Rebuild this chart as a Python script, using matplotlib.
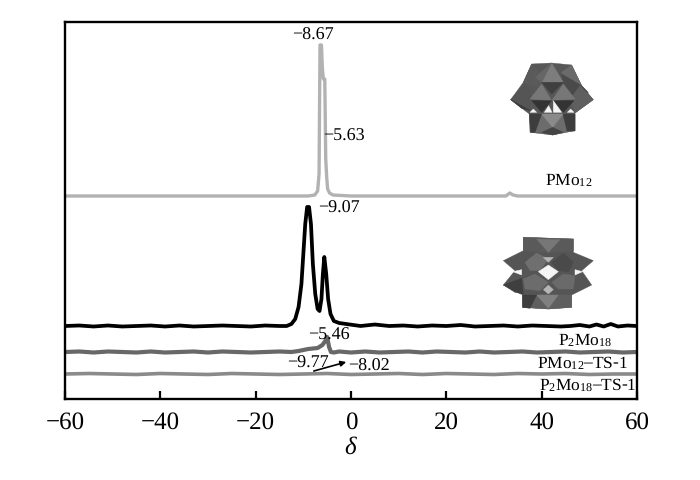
import matplotlib
matplotlib.use('Agg')
import matplotlib.pyplot as plt
from matplotlib.patches import Polygon

plt.rcParams['font.family'] = ['Liberation Serif', 'DejaVu Serif']
plt.rcParams['mathtext.fontset'] = 'custom'
plt.rcParams['mathtext.rm'] = 'Liberation Serif'
plt.rcParams['mathtext.it'] = 'Liberation Serif:italic'
plt.rcParams['text.hinting'] = 'none'

pmo12_x = [-60, -30, -15, -9, -7.6, -7.0, -6.7, -6.5, -6.2, -6.0, -5.8, -5.5, -5.3, -5.1, -4.9, -4.5, -3.8, 0, 20, 32.5, 33.3, 34, 35, 45, 60]
pmo12_y = [203, 203, 203, 203, 204, 208, 225, 354, 354, 330, 320, 320, 240, 222, 210, 206, 204, 203, 203, 203, 206, 204, 203, 203, 203]

p2mo18_x = [-60, -57, -54, -51, -48, -45, -42, -39, -36, -33, -30, -27, -24, -21, -18, -15, -13.5, -12.5, -11.7, -11, -10.4, -10, -9.6, -9.2, -8.8, -8.4, -8, -7.5, -7, -6.6, -6.2, -5.9, -5.6, -5.2, -4.8, -4.3, -3.6, -2.5, -1, 2, 5, 8, 11, 14, 17, 20, 23, 26, 29, 32, 35, 38, 41, 44, 46, 48, 50, 51.5, 53, 54.5, 56, 58, 60]
p2mo18_y = [73, 73.5, 72.5, 73.5, 72.5, 73, 73.5, 72.5, 73.5, 72.5, 73, 73.5, 73, 72.5, 73.5, 73, 73, 75, 80, 92, 115, 145, 175, 192, 192, 175, 135, 105, 90, 88, 100, 125, 142, 125, 100, 85, 78, 76, 75, 73, 74.5, 73, 73.5, 72.5, 73.5, 73, 74, 72.5, 73, 73.5, 72.5, 73.5, 73, 72.5, 73, 74, 72.5, 74.5, 72.5, 75, 72.5, 73.5, 73]

ts1_x = [-60, -57, -54, -51, -48, -45, -42, -39, -36, -33, -30, -27, -24, -21, -18, -15, -12.5, -11, -9, -7, -6, -5.4, -5.0, -4.6, -4.2, -3.6, -2.5, 0, 3, 6, 9, 12, 15, 18, 21, 24, 27, 30, 33, 36, 39, 42, 45, 48, 51, 54, 57, 60]
ts1_y = [47, 47.5, 46.5, 47.5, 47, 46.5, 47.5, 46.5, 47, 47.5, 46.5, 47.5, 47, 46.5, 47, 47.5, 47, 48, 50, 51, 54, 58, 62, 52, 47, 46.5, 47.5, 46.5, 47.5, 46.5, 47, 47.5, 46.5, 47.5, 47, 46.5, 47.5, 46.5, 47, 47.5, 46.5, 47, 47.5, 46.5, 47, 47.5, 46.5, 47]

ts2_x = [-60, -55, -50, -45, -40, -35, -30, -25, -20, -15, -10, -5, 0, 5, 10, 15, 20, 25, 30, 35, 40, 45, 50, 55, 60]
ts2_y = [25, 25.5, 25, 24.5, 25.5, 25, 24.5, 25.5, 25, 24.5, 25, 25.5, 24.5, 25, 25.5, 24.5, 25.5, 25, 24.5, 25.5, 25, 25.5, 24.5, 25, 25]

x_ticks = [-60, -40, -20, 0, 20, 40, 60]

# polyhedra, (grey, outline in pixels of the figure)
icon_pmo12 = [
    ('#575757', [(155, 45), (215, 42), (275, 48), (305, 110), (340, 152), (285, 192), (285, 245), (218, 258), (150, 250), (148, 195), (92, 152), (130, 100)]),
    ('#5a5a5a', [(155, 45), (195, 85), (170, 115), (130, 100)]),
    ('#6a6a6a', [(275, 48), (305, 110), (262, 105), (245, 70)]),
    ('#4a4a4a', [(245, 75), (305, 110), (325, 130), (285, 150), (250, 105)]),
    ('#7d7d7d', [(215, 42), (250, 100), (185, 100)]),
    ('#666666', [(215, 42), (185, 100), (165, 85)]),
    ('#3f3f3f', [(185, 100), (250, 100), (215, 135)]),
    ('#555555', [(92, 152), (135, 108), (150, 125), (152, 185)]),
    ('#3c3c3c', [(92, 152), (152, 185), (125, 178)]),
    ('#5f5f5f', [(340, 152), (300, 110), (270, 150), (285, 192)]),
    ('#777777', [(185, 105), (150, 150), (215, 155)]),
    ('#777777', [(250, 105), (215, 155), (285, 150)]),
    ('#333333', [(155, 155), (215, 155), (185, 190)]),
    ('#333333', [(220, 155), (282, 155), (250, 190)]),
    ('#f5f5f5', [(150, 190), (170, 190), (160, 180)]),
    ('#f5f5f5', [(193, 190), (216, 190), (206, 170)]),
    ('#f5f5f5', [(220, 155), (245, 190), (220, 190)]),
    ('#f5f5f5', [(262, 190), (282, 190), (272, 180)]),
    ('#6c6c6c', [(148, 195), (285, 195), (285, 245), (250, 250), (218, 258), (185, 250), (152, 250)]),
    ('#8a8a8a', [(185, 195), (250, 195), (218, 235)]),
    ('#3d3d3d', [(148, 195), (185, 195), (165, 250), (152, 250)]),
    ('#3d3d3d', [(250, 195), (285, 195), (285, 245), (262, 245)]),
    ('#444444', [(185, 250), (218, 235), (250, 250), (218, 258)]),
]
icon_p2mo18 = [
    ('#555555', [(130, 25), (280, 30), (280, 70), (340, 95), (305, 125), (335, 168), (275, 198), (275, 235), (205, 240), (128, 235), (128, 198), (70, 168), (105, 125), (70, 95), (130, 65)]),
    ('#5a5a5a', [(130, 25), (280, 30), (280, 65), (205, 72), (130, 65)]),
    ('#777777', [(170, 30), (240, 32), (205, 70)]),
    ('#6f6f6f', [(135, 100), (170, 72), (205, 90), (180, 125), (150, 125)]),
    ('#4a4a4a', [(215, 100), (250, 72), (280, 100), (265, 128), (235, 125)]),
    ('#b5b5b5', [(190, 85), (220, 85), (205, 100)]),
    ('#6c6c6c', [(130, 150), (165, 135), (205, 160), (180, 185), (135, 180)]),
    ('#6a6a6a', [(215, 160), (250, 135), (285, 140), (280, 180), (235, 180)]),
    ('#3f3f3f', [(70, 168), (125, 148), (130, 195), (105, 190)]),
    ('#f5f5f5', [(175, 128), (205, 108), (235, 128), (205, 152)]),
    ('#f5f5f5', [(98, 128), (125, 122), (125, 138)]),
    ('#f5f5f5', [(285, 122), (308, 128), (285, 138)]),
    ('#b5b5b5', [(190, 182), (205, 168), (220, 182), (205, 195)]),
    ('#5f5f5f', [(128, 198), (275, 198), (275, 235), (205, 240), (128, 235)]),
    ('#808080', [(170, 198), (235, 198), (205, 238)]),
    ('#3d3d3d', [(128, 198), (170, 198), (150, 238), (128, 235)]),
]


def draw_icon(ax, faces, ox, oy):
    for grey, pts in faces:
        pts_px = [(ox + px / 3, oy + py / 3) for px, py in pts]
        ax.add_patch(Polygon(pts_px, closed=True, fc=grey, ec=grey, lw=0.3))


fig = plt.figure(figsize=(7, 4.81), dpi=100)
ax = fig.add_axes([65 / 700, 81 / 481, 572 / 700, 377 / 481])

ax.plot(pmo12_x, pmo12_y, color='#b2b2b2', lw=2.4, solid_joinstyle='round')
ax.plot(p2mo18_x, p2mo18_y, color='black', lw=2.7, solid_joinstyle='round')
ax.plot(ts1_x, ts1_y, color='#686868', lw=3.0, solid_joinstyle='round')
ax.plot(ts2_x, ts2_y, color='#8a8a8a', lw=2.6, solid_joinstyle='round')

ax.set_xlim(-60, 60)
ax.set_ylim(0, 377)
ax.set_xticks(x_ticks)
ax.set_yticks([])
ax.tick_params(axis='x', direction='in', length=6, width=1.6, labelsize=18, pad=8)
for spine in ax.spines.values():
    spine.set_linewidth(1.7)
ax.set_xlabel(r'$\delta$', fontsize=18, labelpad=2)

peak_fs = 13
ax.text(-8, 365, '\u22128.67', fontsize=peak_fs, ha='center', va='center')
ax.text(-5.9, 264, '\u22125.63', fontsize=peak_fs, ha='left', va='center')
ax.text(-7, 192, '\u22129.07', fontsize=peak_fs, ha='left', va='center')
ax.text(-4.6, 65, '\u22125.46', fontsize=peak_fs, ha='center', va='center')
ax.text(-9, 37, '\u22129.77', fontsize=peak_fs, ha='center', va='center')
ax.text(-0.6, 34, '\u22128.02', fontsize=peak_fs, ha='left', va='center')
ax.annotate('', xy=(-1, 37), xytext=(-7.8, 28),
            arrowprops=dict(arrowstyle='-|>', color='black', lw=1.2, mutation_scale=8, shrinkA=0, shrinkB=0))

name_fs = 12.5
ax.text(40.7, 220, 'PMo$_{12}$', fontsize=name_fs, ha='left', va='center')
ax.text(43.4, 60, 'P$_{2}$Mo$_{18}$', fontsize=name_fs, ha='left', va='center')
ax.text(39, 37, 'PMo$_{12}$\u2013TS-1', fontsize=name_fs, ha='left', va='center')
ax.text(39.4, 15, 'P$_{2}$Mo$_{18}$\u2013TS-1', fontsize=name_fs, ha='left', va='center')

# overlay in figure pixels for the two structure drawings
overlay = fig.add_axes([0, 0, 1, 1], facecolor='none')
overlay.set_xlim(0, 700)
overlay.set_ylim(481, 0)
overlay.axis('off')
draw_icon(overlay, icon_pmo12, 480, 50)
draw_icon(overlay, icon_p2mo18, 480, 230)

fig.savefig('out.png', dpi=100)
